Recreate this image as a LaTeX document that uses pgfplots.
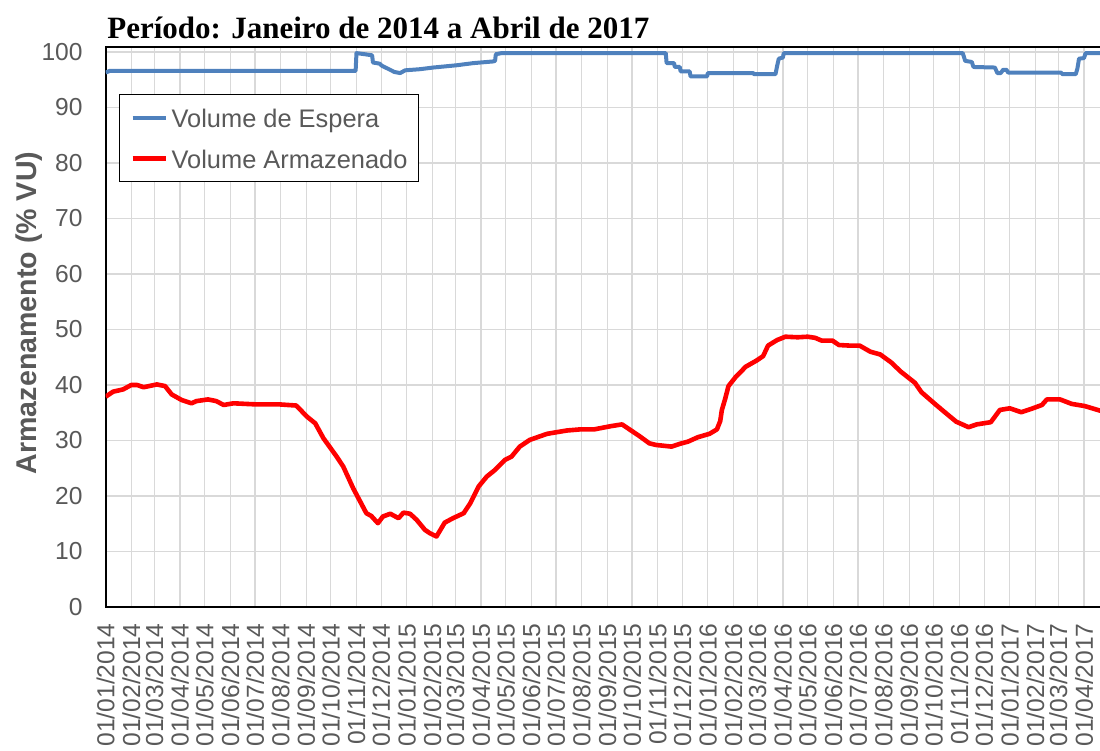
\documentclass[border=0pt]{standalone}
\usepackage{fontspec}
\setmainfont{Liberation Sans}
\newfontfamily\titlefont{Liberation Serif}
\usepackage{pgfplots}
\pgfplotsset{compat=1.18}
\definecolor{esp}{HTML}{4F81BD}
\definecolor{txt}{HTML}{595959}
\definecolor{grd}{HTML}{D9D9D9}

\begin{document}
\begin{tikzpicture}
\begin{axis}[
  name=ax,
  scale only axis,
  width=501.1bp, height=280bp,
  xmin=0, xmax=1215, ymin=0, ymax=100.9,
  ytick={0,10,...,100},
  xtick={0,31,59,90,120,151,181,212,243,273,304,334,
         365,396,424,455,485,516,546,577,608,638,669,699,
         730,761,790,821,851,882,912,943,974,1004,1035,1065,
         1096,1127,1155,1186},
  xticklabels={01/01/2014,01/02/2014,01/03/2014,01/04/2014,01/05/2014,01/06/2014,
    01/07/2014,01/08/2014,01/09/2014,01/10/2014,01/11/2014,01/12/2014,
    01/01/2015,01/02/2015,01/03/2015,01/04/2015,01/05/2015,01/06/2015,
    01/07/2015,01/08/2015,01/09/2015,01/10/2015,01/11/2015,01/12/2015,
    01/01/2016,01/02/2016,01/03/2016,01/04/2016,01/05/2016,01/06/2016,
    01/07/2016,01/08/2016,01/09/2016,01/10/2016,01/11/2016,01/12/2016,
    01/01/2017,01/02/2017,01/03/2017,01/04/2017},
  major tick length=0pt,
  grid=major,
  major grid style={draw=grd, line width=0.6bp},
  axis line style={black, line width=1bp},
  tick label style={font=\fontsize{12.3bp}{14bp}\selectfont, text=txt},
  /pgf/number format/assume math mode=true,
  xticklabel style={yshift=-8bp, rotate=90, anchor=east, inner sep=0pt},
  yticklabel style={anchor=east, inner sep=0pt, xshift=-11.35bp},
  legend cell align=left,
  legend style={at={(axis description cs:0.01357,0.9155)}, anchor=north west,
    draw=black, fill=white,
    font=\fontsize{12.7bp}{14bp}\selectfont, text=txt,
    inner xsep=5.35bp, inner ysep=6.4bp, row sep=10.35bp, column sep=1.65bp,
    nodes={inner sep=0pt, text height=10bp, text depth=0bp}},
  legend image code/.code={\draw[#1] (0bp,0bp) -- (16.7bp,0bp);},
]
% Volume de Espera
\addplot[esp, line width=2bp, line join=round] coordinates {
(0,96.3) (5,96.6) (303,96.6) (304,99.8) (314,99.6) (323,99.4) (324,98.1)
(332,97.9) (335,97.5) (342,97.0) (350,96.4) (357,96.2) (363,96.7) (381,96.9)
(397,97.2) (425,97.6) (446,98.0) (470,98.3) (472,98.4) (473,99.6) (480,99.8)
(679,99.8) (680,98.0) (689,98.0) (690,97.3) (696,97.3) (697,96.5) (708,96.5)
(709,95.6) (729,95.6) (730,96.2) (785,96.2) (786,96.0) (812,96.0) (814,97.5)
(816,98.8) (821,99.0) (822,99.8) (1039,99.8) (1042,98.4) (1050,98.2) (1052,97.3)
(1078,97.2) (1081,96.2) (1085,96.2) (1088,96.8) (1092,96.8) (1094,96.3)
(1158,96.3) (1160,96.0) (1176,96.0) (1178,97.0) (1180,98.8) (1186,98.9)
(1188,99.8) (1215,99.8)
};
\addlegendentry{Volume de Espera}
% Volume Armazenado
\addplot[red, line width=2.3bp, line join=round] coordinates {
(0,37.9) (9,38.8) (21,39.2) (31,40.0) (38,40.0) (46,39.6) (62,40.1) (72,39.8)
(80,38.3) (92,37.3) (104,36.7) (110,37.1) (124,37.4) (134,37.1) (143,36.4)
(155,36.7) (183,36.5) (211,36.5) (231,36.3) (244,34.3) (254,33.1) (264,30.4)
(280,27.1) (288,25.3) (300,21.4) (316,16.9) (322,16.4) (330,15.1) (336,16.3)
(345,16.8) (355,16.0) (361,17.0) (369,16.8) (377,15.7) (387,13.9) (393,13.3)
(401,12.7) (411,15.2) (421,16.0) (434,16.9) (442,18.7) (452,21.7) (462,23.5)
(472,24.7) (484,26.5) (492,27.1) (502,28.9) (514,30.1) (535,31.2) (559,31.8)
(575,32.0) (592,32.0) (613,32.6) (626,32.9) (634,32.1) (647,30.8) (659,29.5)
(667,29.2) (686,28.9) (696,29.4) (706,29.8) (718,30.6) (732,31.2) (741,32.0)
(745,33.5) (747,35.5) (751,37.5) (755,39.8) (764,41.5) (776,43.3) (789,44.4)
(797,45.2) (803,47.1) (814,48.1) (824,48.7) (839,48.6) (851,48.7) (860,48.5)
(868,48.0) (881,48.0) (889,47.2) (902,47.1) (914,47.1) (927,46.0) (939,45.5)
(952,44.1) (964,42.4) (981,40.4) (989,38.7) (1006,36.5) (1018,35.0) (1031,33.4)
(1046,32.4) (1056,32.9) (1073,33.3) (1084,35.5) (1096,35.8) (1110,35.1)
(1124,35.8) (1135,36.4) (1141,37.4) (1157,37.4) (1171,36.6) (1187,36.2)
(1205,35.4) (1212,35.2)
};
\addlegendentry{Volume Armazenado}
\end{axis}
\node[anchor=base west, inner sep=0pt,
  font=\titlefont\bfseries\fontsize{15.5bp}{18bp}\selectfont]
  at ([xshift=0.65bp, yshift=4bp]ax.north west)
  {Período: Janeiro de 2014 a Abril de 2017};
\node[font=\bfseries\fontsize{14.3bp}{16bp}\selectfont, text=txt,
  xshift=-38.35bp, yshift=7bp, rotate=90] at (ax.west)
  {Armazenamento (\% VU)};
\pgfresetboundingbox
\path[use as bounding box] ([xshift=-52.85bp, yshift=-72bp]ax.south west)
  rectangle ([xshift=497.15bp, yshift=23.5bp]ax.north west);
\end{tikzpicture}
\end{document}
